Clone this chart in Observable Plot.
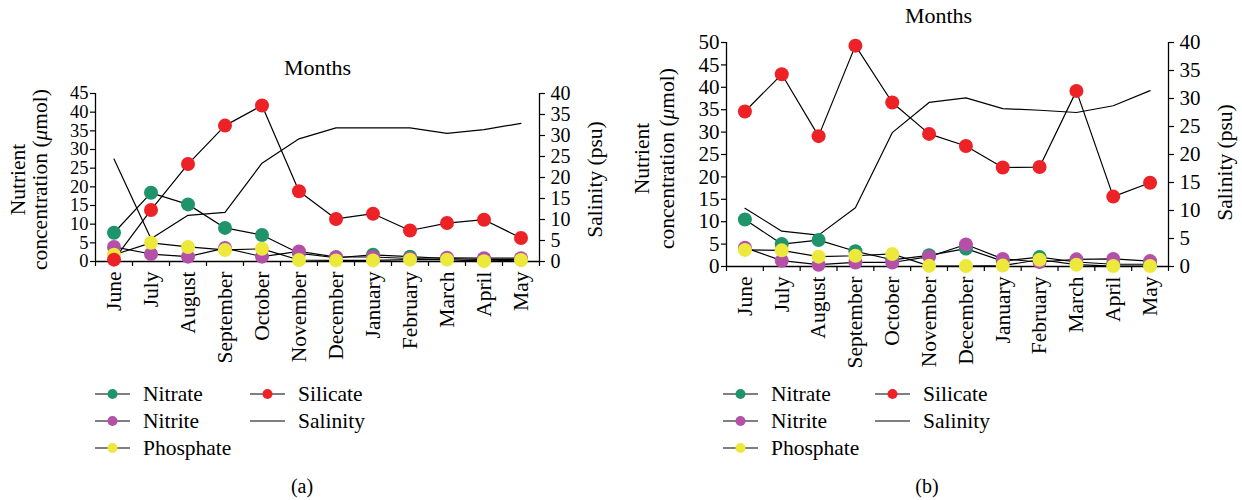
<!DOCTYPE html>
<html>
<head>
<meta charset="utf-8">
<script src="https://cdn.jsdelivr.net/npm/d3@7"></script>
<script src="https://cdn.jsdelivr.net/npm/@observablehq/plot@0.6"></script>
<style>
  body { margin: 0; background: white; }
  #root { position: relative; width: 1242px; height: 500px; overflow: hidden; font-family: 'Liberation Serif', serif; color: black; }
  #root * { font-family: 'Liberation Serif', serif; }
  .panel { position: absolute; }
  .leg { position: absolute; font-size: 21.5px; line-height: 20px; white-space: nowrap; }
  .cap { position: absolute; font-size: 20px; transform: translateX(-50%); }
</style>
</head>
<body>
<div id="root"></div>
<script>
const months = ["June","July","August","September","October","November","December","January","February","March","April","May"];
const seriesNames = ["Nitrate","Nitrite","Phosphate","Silicate"];
const seriesColors = ["#1f946a","#b550a8","#ece83c","#ec2227"];
const salinityTicks = [0,5,10,15,20,25,30,35,40];

// Panel (a)
const nitrateA   = [7.7,18.4,15.3,9.0,7.1,2.2,1.0,1.8,1.3,0.8,0.5,0.5];
const nitriteA   = [3.9,2.0,1.3,3.6,1.3,2.7,1.2,1.2,0.8,1.0,0.9,0.9];
const phosphateA = [1.8,5.0,3.9,3.1,3.4,0.4,0.3,0.3,0.5,0.5,0.1,0.4];
const silicateA  = [0.5,13.8,26.1,36.4,41.8,18.8,11.4,12.8,8.3,10.3,11.2,6.3];
const salinityA  = [24.4,5.4,11.0,11.7,23.4,29.2,31.8,31.8,31.8,30.5,31.4,32.9];
const nutrientTicksA = [0,5,10,15,20,25,30,35,40,45];

// Panel (b)
const nitrateB   = [10.5,5.0,5.9,3.4,1.5,2.5,4.0,1.2,2.1,1.0,0.5,0.5];
const nitriteB   = [4.2,1.3,0.4,0.9,0.9,2.2,4.9,1.7,1.0,1.6,1.7,1.2];
const phosphateB = [3.7,3.6,2.2,2.4,2.8,0.15,0.1,0.2,1.5,0.4,0.1,0.1];
const silicateB  = [34.6,42.9,29.1,49.3,36.6,29.6,26.9,22.1,22.2,39.2,15.6,18.7];
const salinityB  = [10.4,6.3,5.6,10.5,23.9,29.3,30.1,28.2,27.9,27.5,28.7,31.4];
const nutrientTicksB = [0,5,10,15,20,25,30,35,40,45,50];

const FONT = "Liberation Serif";
const root = document.getElementById("root");

function makePanel(o) {
  const ymax = o.ticks[o.ticks.length - 1];
  const f = ymax / 40;
  const nut = [];
  o.series.forEach((vals, s) => vals.forEach((v, i) => nut.push({i, v, name: seriesNames[s]})));
  const sal = o.salinity.map((v, i) => ({i, v: v * f}));
  const idx = months.map((m, i) => i);
  const bounds = d3.range(13).map(k => k - 0.5);
  const plot = Plot.plot({
    width: o.width, height: o.height,
    marginTop: o.mt, marginBottom: o.mb, marginLeft: o.ml, marginRight: o.mr,
    style: {fontFamily: FONT, fontSize: "20px", color: "black", background: "white", overflow: "visible"},
    x: {domain: [-0.5, 11.5], axis: null},
    y: {domain: [0, ymax], axis: null},
    color: {domain: seriesNames, range: seriesColors},
    marks: [
      Plot.axisY({anchor: "left", ticks: o.ticks, tickSize: 5, tickPadding: 2, label: null, strokeWidth: 1.2, fontFamily: FONT, fontSize: o.fsL}),
      Plot.axisY({anchor: "right", ticks: salinityTicks.map(s => s * f), tickFormat: d => String(Math.round(d / f)), tickSize: 5, tickPadding: 6, label: null, strokeWidth: 1.2, fontFamily: FONT, fontSize: o.fsR}),
      Plot.axisX({ticks: idx, tickFormat: i => months[i], tickSize: 0, tickPadding: 10, tickRotate: -90, label: null, fontSize: 21.5, fontFamily: FONT}),
      Plot.axisX({ticks: bounds, tickFormat: () => "", tickSize: 5, label: null, strokeWidth: 1.2}),
      Plot.ruleX([-0.5, 11.5], {stroke: "black", strokeWidth: 1.3}),
      Plot.ruleY([0], {stroke: "black", strokeWidth: 1.3}),
      Plot.line(sal, {x: "i", y: "v", stroke: "black", strokeWidth: 1.2}),
      Plot.line(nut, {x: "i", y: "v", z: "name", stroke: "black", strokeWidth: 1.2}),
      Plot.dot(nut, {x: "i", y: "v", fill: "name", r: 7}),
      Plot.text(["Months"], {frameAnchor: "top", lineAnchor: "middle", textAnchor: "middle", dy: o.monthsDy, dx: o.monthsDx, fontSize: 22, fontFamily: FONT}),
      Plot.text(["Nutrient"], {frameAnchor: "left", textAnchor: "middle", lineAnchor: "middle", dx: o.lab1, dy: o.labDy, rotate: -90, fontSize: 21.5, fontFamily: FONT}),
      Plot.text(["concentration (μmol)"], {frameAnchor: "left", textAnchor: "middle", lineAnchor: "middle", dx: o.lab2, dy: o.labDy, rotate: -90, fontSize: 21.5, fontFamily: FONT}),
      Plot.text(["Salinity (psu)"], {frameAnchor: "right", textAnchor: "middle", lineAnchor: "middle", dx: o.labR, dy: o.labRDy, rotate: -90, fontSize: 21.5, fontFamily: FONT})
    ]
  });
  d3.select(plot).selectAll("text").attr("font-family", FONT).each(function() {
    if (this.childElementCount === 0 && this.textContent.includes("μ")) {
      const t = this.textContent;
      const k = t.indexOf("μ");
      this.textContent = "";
      const sel = d3.select(this);
      sel.append("tspan").text(t.slice(0, k));
      sel.append("tspan").attr("font-style", "italic").text("μ");
      sel.append("tspan").text(t.slice(k + 1));
    }
  });
  d3.select(plot).selectAll("g").attr("font-family", FONT);
  const div = document.createElement("div");
  div.className = "panel";
  div.style.left = o.left + "px";
  div.style.top = o.top + "px";
  div.appendChild(plot);
  root.appendChild(div);
}

makePanel({
  series: [nitrateA, nitriteA, phosphateA, silicateA], salinity: salinityA, ticks: nutrientTicksA,
  left: 0, top: 50, width: 620, height: 321, mt: 43, mb: 110, ml: 95, mr: 81, fsL: 18.5, fsR: 20,
  monthsDy: -26, monthsDx: 0, lab1: -77, lab2: -55, labDy: 2, labR: 56, labRDy: 2
});
makePanel({
  series: [nitrateB, nitriteB, phosphateB, silicateB], salinity: salinityB, ticks: nutrientTicksB,
  left: 620, top: 0, width: 620, height: 376, mt: 42, mb: 110, ml: 106, mr: 72, fsL: 21, fsR: 21,
  monthsDy: -27, monthsDx: -9, lab1: -84, lab2: -59, labDy: 4, labR: 57, labRDy: 8
});

// Legends
function legend(x0, x1, items) {
  const rows = [394, 421, 448];
  items.forEach((it, k) => {
    const col = k < 3 ? 0 : 1;
    const row = k < 3 ? k : k - 3;
    const lx = col === 0 ? x0 : x1;
    const y = rows[row];
    const d = document.createElement("div");
    d.className = "leg";
    d.style.left = lx + "px";
    d.style.top = (y - 10) + "px";
    const dot = it.color ? `<circle cx="17.5" cy="10" r="5" fill="${it.color}"/>` : "";
    d.innerHTML = `<svg width="36" height="20" style="vertical-align:top"><line x1="0" x2="35" y1="10" y2="10" stroke="black" stroke-width="1.2"/>${dot}</svg><span style="position:absolute; left:48px; top:0px; font-family:'Liberation Serif', serif">${it.name}</span>`;
    root.appendChild(d);
  });
}
const legendItems = [
  {name: "Nitrate", color: seriesColors[0]},
  {name: "Nitrite", color: seriesColors[1]},
  {name: "Phosphate", color: seriesColors[2]},
  {name: "Silicate", color: seriesColors[3]},
  {name: "Salinity", color: null}
];
legend(95, 250, legendItems);
legend(723, 875, legendItems);

function caption(txt, x) {
  const c = document.createElement("div");
  c.className = "cap";
  c.style.left = x + "px";
  c.style.top = "475px";
  c.textContent = txt;
  root.appendChild(c);
}
caption("(a)", 302);
caption("(b)", 927);
</script>
</body>
</html>
